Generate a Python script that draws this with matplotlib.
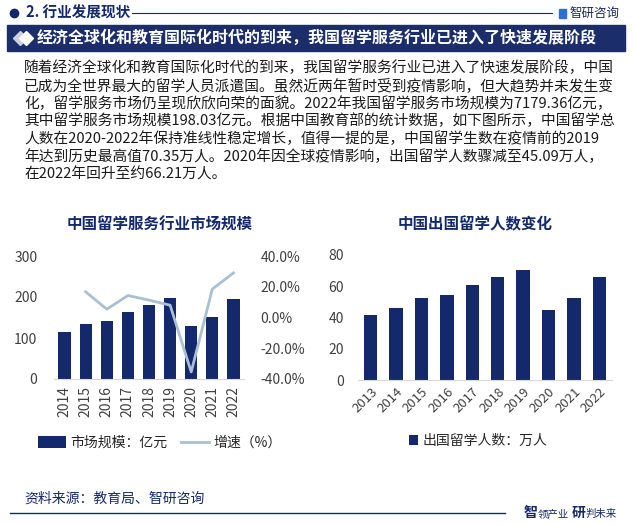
import matplotlib
matplotlib.use('Agg')
import matplotlib.pyplot as plt
from matplotlib.patches import Rectangle
from matplotlib.lines import Line2D
import numpy as np

plt.rcParams['font.family'] = ['Noto Sans CJK SC', 'DejaVu Sans']

# datos: mercado de servicios de estudio en el extranjero
AÑOS_MERCADO = ['2014', '2015', '2016', '2017', '2018', '2019', '2020', '2021', '2022']
MERCADO = [114.6, 134, 141, 163, 180, 198.03, 129, 151, 195]
CRECIMIENTO = [None, 16.7, 5.4, 14.3, 11.3, 8.0, -35.4, 18.5, 29.0]

# datos: estudiantes que salen al extranjero (万人)
AÑOS_ALUMNOS = ['2013', '2014', '2015', '2016', '2017', '2018', '2019', '2020', '2021', '2022']
ALUMNOS = [41.39, 45.98, 52.37, 54.45, 60.84, 66.21, 70.35, 45.09, 52.37, 66.21]

TITULO_SECCION = '2. 行业发展现状'
BANNER = '经济全球化和教育国际化时代的到来，我国留学服务行业已进入了快速发展阶段'
PARRAFO = [
    '随着经济全球化和教育国际化时代的到来，我国留学服务行业已进入了快速发展阶段，中国',
    '已成为全世界最大的留学人员派遣国。虽然近两年暂时受到疫情影响，但大趋势并未发生变',
    '化，留学服务市场仍呈现欣欣向荣的面貌。2022年我国留学服务市场规模为7179.36亿元，',
    '其中留学服务市场规模198.03亿元。根据中国教育部的统计数据，如下图所示，中国留学总',
    '人数在2020-2022年保持准线性稳定增长，值得一提的是，中国留学生数在疫情前的2019',
    '年达到历史最高值70.35万人。2020年因全球疫情影响，出国留学人数骤减至45.09万人，',
    '在2022年回升至约66.21万人。',
]
FUENTE = '资料来源：教育局、智研咨询'

NAVY = '#13296b'
LINEA = '#a9c0d4'
GRIS = '#404040'

W, H = 633, 524


def fx(x):
    return x / W


def fy(y):
    return 1 - y / H


def main():
    fig = plt.figure(figsize=(6.33, 5.24), dpi=100)

    # ***** encabezado
    fig.add_artist(Line2D([fx(14)], [fy(13)], marker='o', ms=6, color=NAVY, lw=0))
    fig.text(fx(26), fy(13), TITULO_SECCION, color=NAVY, fontsize=10.5,
             fontweight='bold', va='center', ha='left')
    fig.add_artist(Line2D([fx(132), fx(552)], [fy(13), fy(13)], color=NAVY, lw=0.8))
    fig.add_artist(Rectangle((fx(559), fy(18)), 7 / W, 9 / H, color='#2b6fd6'))
    fig.text(fx(570), fy(13), '智研咨询', color='#1b2a55', fontsize=9,
             va='center', ha='left')

    # banner azul
    fig.add_artist(Rectangle((fx(7), fy(51)), 618 / W, 26 / H, color='#1c2d6c'))
    fig.add_artist(Line2D([fx(20)], [fy(38)], marker='D', ms=7, color='#c9cfdc', lw=0))
    fig.add_artist(Line2D([fx(26)], [fy(38)], marker='D', ms=7, color='white', lw=0))
    fig.text(fx(37), fy(38), BANNER, color='white', fontsize=11.5,
             fontweight='bold', va='center', ha='left')

    # párrafo
    for i, linea in enumerate(PARRAFO):
        fig.text(fx(24), fy(68 + i * 17.7), linea, color='#1a1a1a',
                 fontsize=10.6, va='center', ha='left')

    # ***** gráfico izquierdo: mercado + crecimiento
    ax = fig.add_axes([fx(54), fy(379), 190 / W, 123 / H])
    x = np.arange(len(AÑOS_MERCADO))
    ax.bar(x, MERCADO, width=0.58, color=NAVY, label='市场规模：亿元')
    ax.set_ylim(0, 300)
    ax.set_xlim(-0.5, len(AÑOS_MERCADO) - 0.5)
    ax.set_yticks([0, 100, 200, 300])
    ax.set_xticks(x)
    ax.set_xticklabels(AÑOS_MERCADO, rotation=90)
    ax.tick_params(axis='y', length=0, pad=12, labelsize=10, labelcolor=GRIS)
    ax.tick_params(axis='x', length=0, pad=5, labelsize=10, labelcolor=GRIS)
    for s in ['top', 'right', 'left']:
        ax.spines[s].set_visible(False)
    ax.spines['bottom'].set_color('#d9d9d9')

    ax2 = ax.twinx()
    xs = [i for i, v in enumerate(CRECIMIENTO) if v is not None]
    ys = [v / 100 for v in CRECIMIENTO if v is not None]
    ax2.plot(xs, ys, color=LINEA, lw=2, label='增速（%）')
    ax2.set_ylim(-0.4, 0.4)
    ax2.set_yticks([-0.4, -0.2, 0, 0.2, 0.4])
    ax2.set_yticklabels(['-40.0%', '-20.0%', '0.0%', '20.0%', '40.0%'])
    ax2.tick_params(axis='y', length=0, pad=12, labelsize=10, labelcolor=GRIS)
    for s in ['top', 'right', 'left', 'bottom']:
        ax2.spines[s].set_visible(False)

    fig.text(fx(160), fy(225), '中国留学服务行业市场规模', color=NAVY, fontsize=11.2,
             fontweight='bold', ha='center', va='center')

    h1, l1 = ax.get_legend_handles_labels()
    h2, l2 = ax2.get_legend_handles_labels()
    fig.legend(h1 + h2, l1 + l2, loc='center', bbox_to_anchor=(fx(160), fy(443)),
               ncol=2, frameon=False, fontsize=10, handlelength=2.0, handleheight=0.9,
               columnspacing=1.0, handletextpad=0.3, labelcolor='#262626')

    # ***** gráfico derecho: alumnos
    bx = fig.add_axes([fx(358), fy(380), 254 / W, 125 / H])
    x2 = np.arange(len(AÑOS_ALUMNOS))
    bx.bar(x2, ALUMNOS, width=0.52, color=NAVY, label='出国留学人数：万人')
    bx.set_ylim(0, 80)
    bx.set_xlim(-0.5, len(AÑOS_ALUMNOS) - 0.5)
    bx.set_yticks([0, 20, 40, 60, 80])
    bx.set_xticks(x2)
    bx.set_xticklabels(AÑOS_ALUMNOS, rotation=45, ha='right', rotation_mode='anchor')
    bx.tick_params(axis='y', length=0, pad=10, labelsize=10, labelcolor=GRIS)
    bx.tick_params(axis='x', length=0, pad=4, labelsize=9.5, labelcolor=GRIS)
    for s in ['top', 'right', 'left']:
        bx.spines[s].set_visible(False)
    bx.spines['bottom'].set_color('#d9d9d9')

    fig.text(fx(475), fy(224), '中国出国留学人数变化', color=NAVY, fontsize=11.2,
             fontweight='bold', ha='center', va='center')
    bx.legend(loc='center', bbox_to_anchor=(fx(478), fy(441)),
              bbox_transform=fig.transFigure, frameon=False, fontsize=10,
              handlelength=0.7, handleheight=0.7, handletextpad=0.3,
              labelcolor='#262626')

    # ***** pie de página
    fig.text(fx(24), fy(499), FUENTE, color=NAVY, fontsize=10, ha='left', va='center')
    fig.add_artist(Line2D([fx(10), fx(505)], [fy(513), fy(513)], color=NAVY, lw=1))
    fig.text(fx(524), fy(513), '智', color=NAVY, fontsize=10, fontweight='bold',
             ha='left', va='center')
    fig.text(fx(538), fy(514), '领产业', color=NAVY, fontsize=7.5, ha='left', va='center')
    fig.text(fx(572), fy(513), '研', color=NAVY, fontsize=10, fontweight='bold',
             ha='left', va='center')
    fig.text(fx(586), fy(514), '判未来', color=NAVY, fontsize=7.5, ha='left', va='center')

    fig.savefig('out.png', dpi=100)


if __name__ == '__main__':
    main()
